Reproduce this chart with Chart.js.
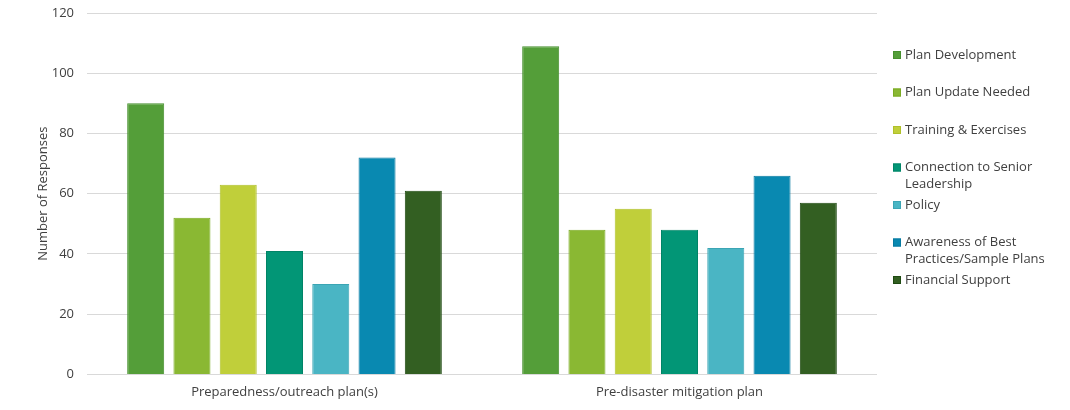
<!DOCTYPE html>
<html>
<head>
<meta charset="utf-8">
<script src="https://cdn.jsdelivr.net/npm/chart.js@4.4.1/dist/chart.umd.min.js"></script>
<style>
  html, body { margin: 0; padding: 0; background: #fff; }
  #wrap { width: 1070px; height: 410px; position: relative; }
</style>
</head>
<body>
<div id="wrap"><canvas id="cvChart"></canvas></div>
<script>
// categories and tick values
var categories = ["Preparedness/outreach plan(s)", "Pre-disaster mitigation plan"];
var yTicks = [0, 20, 40, 60, 80, 100, 120];

// one series per barrier type
var seriesNames = [
    "Plan Development",
    "Plan Update Needed",
    "Training & Exercises",
    ["Connection to Senior", "Leadership"],
    "Policy",
    ["Awareness of Best", "Practices/Sample Plans"],
    "Financial Support"
];
var planDevelopment = [90, 109];
var planUpdateNeeded = [52, 48];
var trainingExercises = [63, 55];
var seniorLeadership = [41, 48];
var policy = [30, 42];
var bestPractices = [72, 66];
var financialSupport = [61, 57];

var fillColors = ["#549E39", "#8AB833", "#C0CF3A", "#029676", "#4AB5C4", "#0989B1", "#335F22"];
var lineColors = ["#46902E", "#7AAA22", "#B0C02A", "#018467", "#3BA5B4", "#0679A0", "#1F4A12"];

var seriesValues = [planDevelopment, planUpdateNeeded, trainingExercises, seniorLeadership,
                    policy, bestPractices, financialSupport];

var font = "'Open Sans', sans-serif";

var datasets = seriesValues.map(function (vals, i) {
    return {
        label: seriesNames[i],
        data: vals,
        backgroundColor: fillColors[i],
        borderColor: lineColors[i],
        borderWidth: 1,
        categoryPercentage: 0.82,
        barPercentage: 0.8
    };
});

// legend drawn in evenly spaced slots, like the office chart does
var slotLegend = {
    id: "slotLegend",
    afterDraw: function (chart) {
        var ctx = chart.ctx;
        var x0 = 893, y0 = 55, step = 37.5;
        ctx.save();
        ctx.font = "13px " + font;
        ctx.textBaseline = "middle";
        chart.data.datasets.forEach(function (ds, i) {
            var y = y0 + i * step;
            ctx.fillStyle = ds.backgroundColor;
            ctx.fillRect(x0, y - 4, 8, 8);
            ctx.strokeStyle = ds.borderColor;
            ctx.lineWidth = 1;
            ctx.strokeRect(x0 + 0.5, y - 3.5, 7, 7);
            ctx.fillStyle = "#404040";
            var lines = Array.isArray(ds.label) ? ds.label : [ds.label];
            lines.forEach(function (t, k) {
                ctx.fillText(t, x0 + 12, y + k * 17);
            });
        });
        ctx.restore();
    }
};

new Chart(document.getElementById("cvChart"), {
    type: "bar",
    data: { labels: categories, datasets: datasets },
    plugins: [slotLegend],
    options: {
        responsive: true,
        maintainAspectRatio: false,
        animation: false,
        layout: { padding: { top: 13, right: 193, bottom: 0, left: 35 } },
        plugins: {
            legend: { display: false },
            tooltip: { enabled: false }
        },
        scales: {
            x: {
                grid: { display: false, drawTicks: false },
                border: { display: false },
                ticks: {
                    color: "#404040",
                    font: { family: font, size: 13 },
                    padding: 10
                }
            },
            y: {
                min: 0,
                max: 120,
                afterBuildTicks: function (axis) {
                    axis.ticks = yTicks.map(function (v) { return { value: v }; });
                },
                afterFit: function (axis) {
                    axis.width = 52;
                    axis.paddingTop = 0;
                    axis.paddingBottom = 0;
                },
                grid: { color: "#D9D9D9", lineWidth: 1, drawTicks: false },
                border: { display: false },
                ticks: {
                    color: "#404040",
                    font: { family: font, size: 13 },
                    padding: 13
                },
                title: {
                    display: true,
                    text: "Number of Responses",
                    color: "#404040",
                    font: { family: font, size: 13 },
                    padding: { top: 0, bottom: 0 }
                }
            }
        }
    }
});
</script>
</body>
</html>
